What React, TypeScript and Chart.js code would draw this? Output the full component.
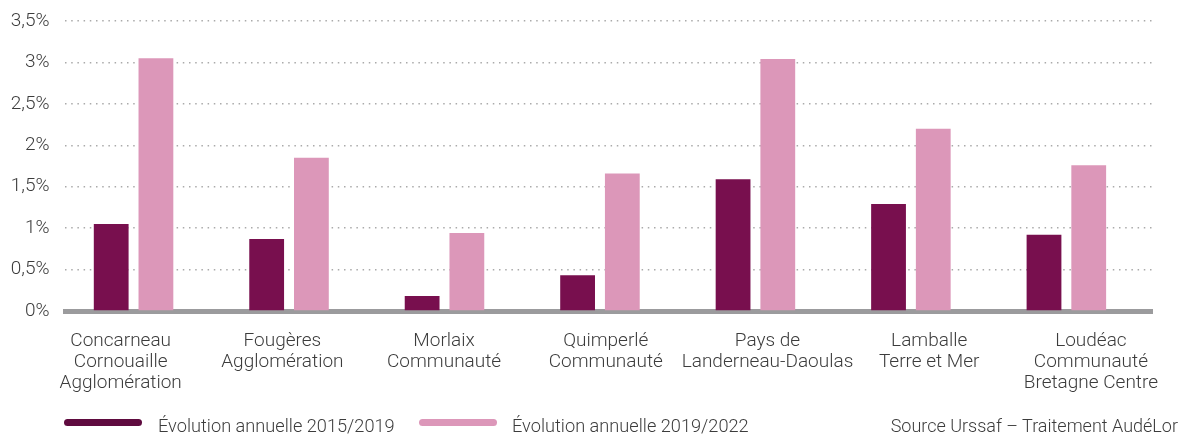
import React, { useEffect, useRef } from 'react';
import { Chart, registerables } from 'chart.js';

Chart.register(...registerables);

const categories: string[][] = [
  ['Concarneau', 'Cornouaille', 'Agglomération'],
  ['Fougères', 'Agglomération'],
  ['Morlaix', 'Communauté'],
  ['Quimperlé', 'Communauté'],
  ['Pays de', 'Landerneau-Daoulas'],
  ['Lamballe', 'Terre et Mer'],
  ['Loudéac', 'Communauté', 'Bretagne Centre'],
];
const series2015_2019 = [1.05, 0.87, 0.18, 0.43, 1.59, 1.29, 0.92];
const series2019_2022 = [3.05, 1.85, 0.94, 1.66, 3.04, 2.2, 1.76];
const seriesNames = ['Évolution annuelle 2015/2019', 'Évolution annuelle 2019/2022'];
const yMin = 0;
const yMax = 3.5;
const yStep = 0.5;
const sourceText = 'Source Urssaf – Traitement AudéLor';

const DARK = '#780f4e';
const DARK_LEGEND = '#5f0b3f';
const PINK = '#dc97b9';
const TEXT = '#3c3c3c';
const FONT = 'Roboto';

export default function App() {
  const canvasRef = useRef<HTMLCanvasElement | null>(null);

  useEffect(() => {
    document.body.style.margin = '0';
    const canvas = canvasRef.current;
    if (!canvas) return;
    const idx = categories.map((_, i) => i);
    const chart = new Chart(canvas, {
      type: 'bar',
      data: {
        datasets: [
          {
            label: seriesNames[0],
            data: series2015_2019.map((y, i) => ({ x: i, y })),
            backgroundColor: DARK,
            categoryPercentage: 0.5754,
            barPercentage: 0.7778,
            xAxisID: 'x',
            yAxisID: 'y',
          },
          {
            label: seriesNames[1],
            data: series2019_2022.map((y, i) => ({ x: i, y })),
            backgroundColor: PINK,
            categoryPercentage: 0.5754,
            barPercentage: 0.7778,
            xAxisID: 'x',
            yAxisID: 'y',
          },
        ],
      },
      options: {
        animation: false,
        responsive: false,
        maintainAspectRatio: false,
        layout: { padding: { top: 21, right: 20, bottom: 0, left: 0 } },
        plugins: {
          legend: { display: false },
          tooltip: { enabled: false },
        },
        scales: {
          x: {
            type: 'linear',
            position: 'bottom',
            offset: false,
            weight: 0,
            min: -0.441,
            max: 6.554,
            grid: { display: false, drawTicks: false, offset: false },
            ticks: { display: false },
            border: { display: true, color: '#9b9b9d', width: 5 },
            afterBuildTicks: (s: any) => {
              s.ticks = idx.map((v) => ({ value: v }));
            },
            afterFit: (s: any) => {
              s.height = 0;
            },
          },
          xl: {
            type: 'linear',
            position: 'bottom',
            offset: false,
            weight: 1,
            min: -0.3443,
            max: 6.381,
            grid: { display: false, drawTicks: false, offset: false },
            border: { display: false },
            ticks: {
              autoSkip: false,
              maxRotation: 0,
              minRotation: 0,
              padding: 19.5,
              color: TEXT,
              font: { family: FONT, size: 19, weight: '300', lineHeight: '21px' },
              callback: (v: any) => categories[v] ?? '',
            },
            afterBuildTicks: (s: any) => {
              s.ticks = idx.map((v) => ({ value: v }));
            },
            afterFit: (s: any) => {
              s.height = 123;
            },
          },
          y: {
            type: 'linear',
            min: yMin,
            max: yMax,
            grid: {
              drawTicks: false,
              lineWidth: 1.5,
              color: (ctx: any) => (ctx.tick && ctx.tick.value === 0 ? 'rgba(0,0,0,0)' : '#aaaaaa'),
            },
            border: { display: false, dash: [1.5, 4.7] },
            ticks: {
              stepSize: yStep,
              padding: 15.5,
              color: TEXT,
              font: { family: FONT, size: 19, weight: '300' },
              callback: (v: any) => String(v).replace('.', ',') + '%',
            },
            afterFit: (s: any) => {
              s.width = 65;
              s.paddingTop = 0;
              s.paddingBottom = 0;
            },
          },
        },
      },
    } as any);
    return () => chart.destroy();
  }, []);

  const textStyle: React.CSSProperties = {
    position: 'absolute',
    top: 416,
    fontFamily: FONT,
    fontWeight: 300,
    fontSize: 18.2,
    lineHeight: '19px',
    color: TEXT,
    whiteSpace: 'nowrap',
  };
  const markerStyle: React.CSSProperties = {
    position: 'absolute',
    top: 419,
    width: 78,
    height: 7,
    borderRadius: 3.5,
  };

  return (
    <div style={{ position: 'relative', width: 1179, height: 434, overflow: 'hidden', background: '#fff' }}>
      <canvas ref={canvasRef} width={1179} height={434} style={{ display: 'block', width: 1179, height: 434 }} />
      <div style={{ ...markerStyle, left: 64, background: DARK_LEGEND }} />
      <div style={{ ...textStyle, left: 158 }}>{seriesNames[0]}</div>
      <div style={{ ...markerStyle, left: 419, background: PINK }} />
      <div style={{ ...textStyle, left: 512 }}>{seriesNames[1]}</div>
      <div style={{ ...textStyle, right: 1, fontSize: 18 }}>{sourceText}</div>
    </div>
  );
}
